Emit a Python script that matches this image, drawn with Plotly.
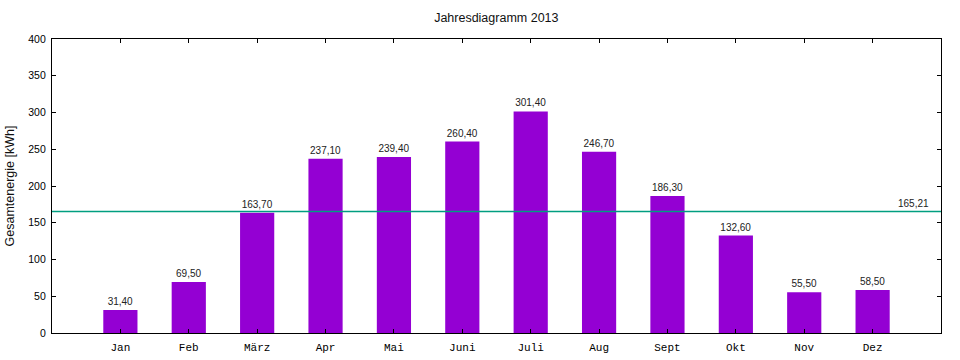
import plotly.graph_objects as go

months = ["Jan", "Feb", "März", "Apr", "Mai", "Juni", "Juli", "Aug", "Sept", "Okt", "Nov", "Dez"]
energy = [31.4, 69.5, 163.7, 237.1, 239.4, 260.4, 301.4, 246.7, 186.3, 132.6, 55.5, 58.5]
average = 165.21
y_ticks = [0, 50, 100, 150, 200, 250, 300, 350, 400]

def de(v):
    return f"{v:.2f}".replace(".", ",")

fig = go.Figure()
fig.add_trace(go.Bar(
    x=months, y=energy, width=0.5,
    marker=dict(color="#9400d3", line=dict(width=0)),
    text=[de(v) for v in energy], textposition="outside",
    textfont=dict(family="Liberation Sans", size=10, color="#222"),
    cliponaxis=False,
))

fig.add_shape(type="line", xref="paper", yref="y", x0=0, x1=1, y0=average, y1=average,
              line=dict(color="#009e80", width=1.5))
fig.add_annotation(xref="paper", yref="y", x=0.9696, xanchor="center", y=average, text=de(average),
                   showarrow=False, yshift=8,
                   font=dict(family="Liberation Sans", size=10, color="#222"))

fig.update_layout(
    width=960, height=360,
    margin=dict(l=52, r=19, t=39, b=27, autoexpand=False),
    plot_bgcolor="white", paper_bgcolor="white",
    showlegend=False,
    title=dict(text="Jahresdiagramm 2013", x=0.517, xanchor="center", y=0.95, yanchor="middle",
               font=dict(family="Liberation Sans", size=12.5, color="#111")),
    bargap=0.5,
)
fig.update_xaxes(
    type="category", range=[-1, 12], categoryorder="array", categoryarray=months,
    showline=True, linecolor="black", linewidth=1.3, mirror="ticks",
    ticks="inside", ticklen=4, tickcolor="black", tickwidth=1.3,
    showgrid=False, zeroline=False, automargin=False, ticklabelstandoff=4,
    tickfont=dict(family="Liberation Mono", size=11, color="black"),
)
fig.update_yaxes(
    range=[0, 400], tickvals=y_ticks,
    showline=True, linecolor="black", linewidth=1.3, mirror="ticks",
    ticks="inside", ticklen=4, tickcolor="black", tickwidth=1.3,
    showgrid=False, zeroline=False, automargin=False, ticklabelstandoff=3,
    tickfont=dict(family="Liberation Sans", size=10.5, color="black"),
    title=dict(text="Gesamtenergie [kWh]", standoff=10,
               font=dict(family="Liberation Sans", size=12.5, color="#111")),
)

fig.write_html("out.html", config={"displayModeBar": False},
               post_script="document.body.style.margin='0';")
